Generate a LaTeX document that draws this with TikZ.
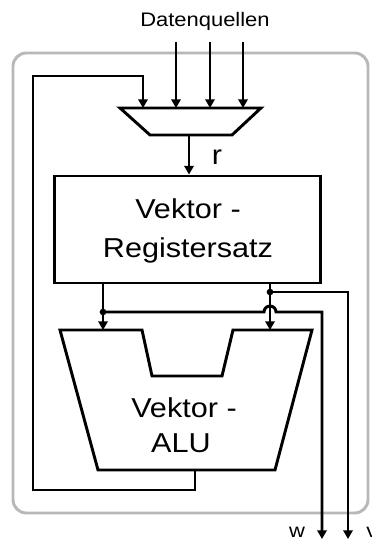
\documentclass[tikz,border=0pt]{standalone}
\usepackage{fontspec}
\setmainfont{Liberation Sans}
\newfontfamily\lbl[FakeStretch=1.12]{Liberation Sans}
\usetikzlibrary{arrows.meta}
\begin{document}
\begin{tikzpicture}[x=0.75pt,y=-0.75pt,
  wire/.style={line width=2.2pt, black, line join=miter},
  arr/.style={wire, -{Triangle[length=6.5pt,width=7pt]}},
  big/.style={font=\fontsize{20.5pt}{24pt}\lbl, inner sep=0pt, anchor=base},
  small/.style={font=\fontsize{14.7pt}{18pt}\lbl, inner sep=0pt, anchor=base},
  dot/.style={circle, fill=black, inner sep=0pt, minimum size=5pt},
  frame/.style={line width=2.2pt, black!28, rounded corners=10pt},
]
\useasboundingbox (0,0) rectangle (371,542);
% outer frame
\draw[frame] (13,53) rectangle (368,513);

% labels
\node[small] (dq) at (205,27) {Datenquellen};
\node[big] (rl) at (217,164) {r};
\node[small] (wl) at (297,537) {w};
\node[small, anchor=base west] (vl) at (366,537) {v};

% multiplexer
\draw[wire] (120,108) coordinate (muxtl) -- (261,108) coordinate (muxtr)
  -- (232,135) coordinate (muxbr) -- (150,135) coordinate (muxbl) -- cycle;
\coordinate (muxout) at (189,135);

% inputs
\foreach \x [count=\i] in {176,210,243} {
  \coordinate (in\i) at (\x,42);
  \coordinate (m\i) at (\x,108);
  \draw[arr] (in\i) -- (m\i);
}

% register file
\node[draw, wire, minimum width=199.5pt, minimum height=80.25pt, inner sep=0pt]
  (reg) at (187.5,229.5) {};
\node[big] (rt1) at (188,218) {Vektor -};
\node[big] (rt2) at (188,257) {Registersatz};
\draw[arr] (muxout) -- (muxout |- reg.north);

% ALU
\draw[wire] (60,330) coordinate (alutl) -- (142,330) -- (152,376) -- (222,376)
  -- (233,330) -- (312,330) coordinate (alutr) -- (275,470) -- (98,470) -- cycle;
\coordinate (aluout) at (195,470);
\node[big] (at1) at (184,417) {Vektor -};
\node[big] (at2) at (181,452) {ALU};

% register -> ALU
\coordinate (ra) at (103,283);
\coordinate (rb) at (270,283);
\coordinate (aa) at (103,330);
\coordinate (ab) at (270,330);
\draw[arr] (ra) -- (aa);
\draw[arr] (rb) -- (ab);
\node[dot] (d1) at (103,312) {};
\node[dot] (d2) at (270,292) {};

% outputs
\coordinate (ow) at (322,539);
\coordinate (ov) at (348,539);
\draw[arr] (d1.center) -- (264,312) arc (180:360:6) -- (ow |- d1.center) -- (ow);
\draw[arr] (d2.center) -- (ov |- d2.center) -- (ov);

% feedback
\coordinate (fb1) at (195,490);
\coordinate (fb2) at (33,490);
\coordinate (fb3) at (33,76);
\coordinate (fb4) at (143,76);
\coordinate (fb5) at (143,108);
\draw[arr] (aluout) -- (fb1) -- (fb2) -- (fb3) -- (fb4) -- (fb5);
\end{tikzpicture}
\end{document}
